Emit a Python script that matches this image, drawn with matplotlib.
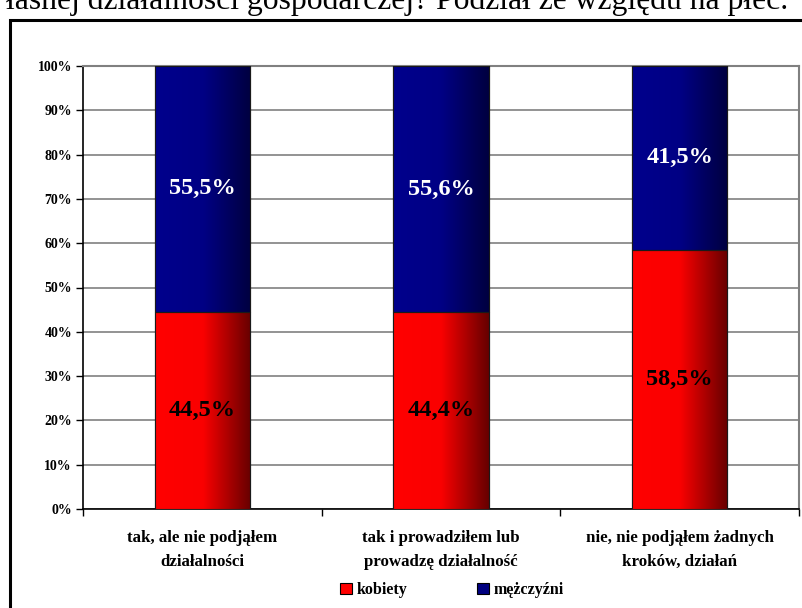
import numpy as np
import matplotlib
matplotlib.use("Agg")
import matplotlib.pyplot as plt
from matplotlib.patches import Rectangle
from matplotlib.colors import LinearSegmentedColormap

categories = ["tak, ale nie podjąłem\ndziałalności",
              "tak i prowadziłem lub\nprowadzę działalność",
              "nie, nie podjąłem żadnych\nkroków, działań"]
kobiety = [44.5, 44.4, 58.5]
mezczyzni = [55.5, 55.6, 41.5]
kobiety_labels = ["44,5%", "44,4%", "58,5%"]
mezczyzni_labels = ["55,5%", "55,6%", "41,5%"]
series_names = ["kobiety", "mężczyźni"]
yticks = [0, 10, 20, 30, 40, 50, 60, 70, 80, 90, 100]
title = "łasnej działalności gospodarczej? Podział ze względu na płeć."

FONT = ["Liberation Serif", "DejaVu Serif"]
plt.rcParams["font.family"] = FONT

W, H = 802, 608
fig = plt.figure(figsize=(W / 100, H / 100), dpi=100)
ax = fig.add_axes([83 / W, 1 - 509 / H, (799 - 83) / W, (509 - 66) / H])

x = np.arange(len(categories))
bw = 0.40
red_cmap = LinearSegmentedColormap.from_list("r", [(1, 0, 0), (0.98, 0, 0), (0.40, 0, 0)])
blue_cmap = LinearSegmentedColormap.from_list("b", [(0, 0, 0.55), (0, 0, 0.52), (0, 0, 0.25)])
grad = np.linspace(0, 1, 256).reshape(1, -1)

bars_k = ax.bar(x, kobiety, bw, color="red", edgecolor="black", linewidth=0.8, zorder=3)
bars_m = ax.bar(x, mezczyzni, bw, bottom=kobiety, color="navy", edgecolor="black", linewidth=0.8, zorder=3)

for bars, cmap in ((bars_k, red_cmap), (bars_m, blue_cmap)):
    for p in bars:
        bx, by = p.get_x(), p.get_y()
        w, h = p.get_width(), p.get_height()
        im = ax.imshow(grad, cmap=cmap, extent=[bx, bx + w, by, by + h],
                       aspect="auto", zorder=3.5, interpolation="bilinear")
        im.set_clip_path(p)
        ax.add_patch(Rectangle((bx, by), w, h, fill=False, edgecolor="#1a1a1a",
                               linewidth=0.8, zorder=4))

for i in range(len(categories)):
    ax.text(x[i], kobiety[i] / 2, kobiety_labels[i], ha="center", va="center",
            fontsize=17.5, fontweight="bold", color="black", zorder=5)
    ax.text(x[i], kobiety[i] + mezczyzni[i] / 2, mezczyzni_labels[i], ha="center", va="center",
            fontsize=17.5, fontweight="bold", color="white", zorder=5)

ax.set_xlim(-0.5, len(categories) - 0.5)
ax.set_ylim(0, 100)
ax.set_yticks(yticks)
ax.set_yticklabels([f"{t}%" for t in yticks], fontsize=10, fontweight="bold")
ax.yaxis.grid(True, color="#808080", linewidth=1.2, zorder=0)
ax.set_axisbelow(True)
ax.tick_params(axis="y", length=5, width=1, direction="out", pad=3)

ax.set_xticks([0.5 + i for i in range(-1, len(categories))])
ax.set_xticklabels([])
ax.tick_params(axis="x", length=5, width=1, direction="out")
for i, c in enumerate(categories):
    ax.text(x[i], -4.7, c, ha="center", va="top", fontsize=12.2, fontweight="bold",
            linespacing=1.65)

for s in ("left", "bottom"):
    ax.spines[s].set_color("black")
    ax.spines[s].set_linewidth(1.2)
for s in ("top", "right"):
    ax.spines[s].set_color("#808080")
    ax.spines[s].set_linewidth(1.5)

handles = [Rectangle((0, 0), 1, 1, facecolor="red", edgecolor="black", linewidth=0.8),
           Rectangle((0, 0), 1, 1, facecolor="navy", edgecolor="black", linewidth=0.8)]
fig.legend(handles, series_names, loc="center", bbox_to_anchor=(452 / W, 1 - 590 / H),
           ncol=2, frameon=False, prop={"family": FONT, "weight": "bold", "size": 11.5},
           handlelength=0.75, handleheight=0.75, handletextpad=0.25, columnspacing=4.4)

# outer frame (partially cropped)
fig.patches.append(Rectangle((10 / W, -0.5), 1.5, 1 - 20 / H + 0.5, transform=fig.transFigure,
                             fill=False, edgecolor="black", linewidth=2.2))

fig.text(397 / W, 1 - 9 / H, title, ha="center", va="baseline", fontsize=22.8)

fig.savefig("out.png", dpi=100)
